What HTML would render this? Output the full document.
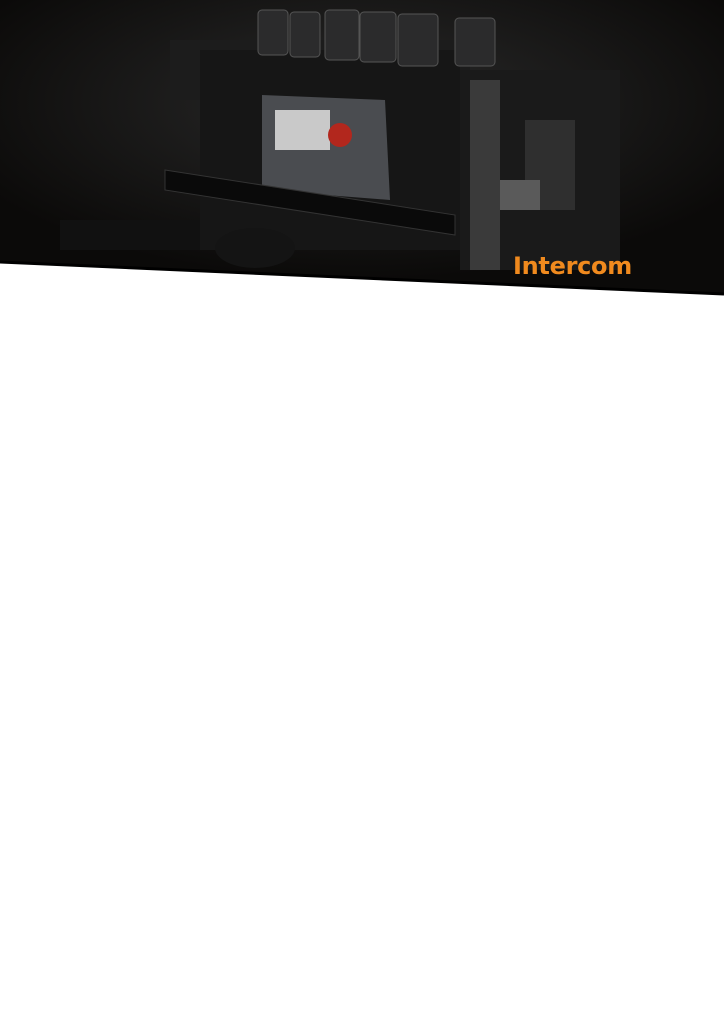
<!DOCTYPE html>
<html><head><style>
html,body{margin:0;padding:0;background:#fff;width:724px;height:1024px;overflow:hidden}
.t{position:absolute;left:513px;top:252px;font:bold 24px "DejaVu Sans","Liberation Sans",sans-serif;color:#f08a1e;letter-spacing:-0.3px}
</style></head><body>
<svg width="724" height="300" style="position:absolute;left:0;top:0">
<defs>
<radialGradient id="g" cx="0.5" cy="0.35" r="0.6">
<stop offset="0" stop-color="#2a2a2a"/><stop offset="1" stop-color="#0b0a09"/>
</radialGradient>
</defs>
<polygon points="0,0 724,0 724,294 0,262" fill="url(#g)"/>
<polyline points="0,262 724,294" stroke="#000" stroke-width="3" fill="none"/>
<!-- rack -->
<rect x="170" y="40" width="300" height="60" fill="#1c1c1c"/>
<rect x="200" y="50" width="260" height="200" fill="#161616"/>
<g fill="#2b2b2c" stroke="#555" stroke-width="1">
<rect x="258" y="10" width="30" height="45" rx="4"/>
<rect x="290" y="12" width="30" height="45" rx="4"/>
<rect x="325" y="10" width="34" height="50" rx="4"/>
<rect x="360" y="12" width="36" height="50" rx="4"/>
<rect x="398" y="14" width="40" height="52" rx="4"/>
<rect x="455" y="18" width="40" height="48" rx="4"/>
</g>
<polygon points="262,95 385,100 390,200 262,190" fill="#4a4c50"/>
<rect x="275" y="110" width="55" height="40" fill="#c9c9c9"/>
<circle cx="340" cy="135" r="12" fill="#b2271d"/>
<polygon points="165,170 455,215 455,235 165,190" fill="#0a0a0a" stroke="#333"/>
<rect x="460" y="70" width="160" height="200" fill="#1a1a1a"/>
<rect x="470" y="80" width="30" height="190" fill="#3a3a3a"/>
<rect x="525" y="120" width="50" height="90" fill="#2f2f2f"/>
<rect x="500" y="180" width="40" height="30" fill="#5a5a5a"/>
<rect x="60" y="220" width="140" height="30" fill="#111"/>
<ellipse cx="255" cy="248" rx="40" ry="20" fill="#141414"/>
</svg>
<div class="t">Intercom</div>
</body></html>
